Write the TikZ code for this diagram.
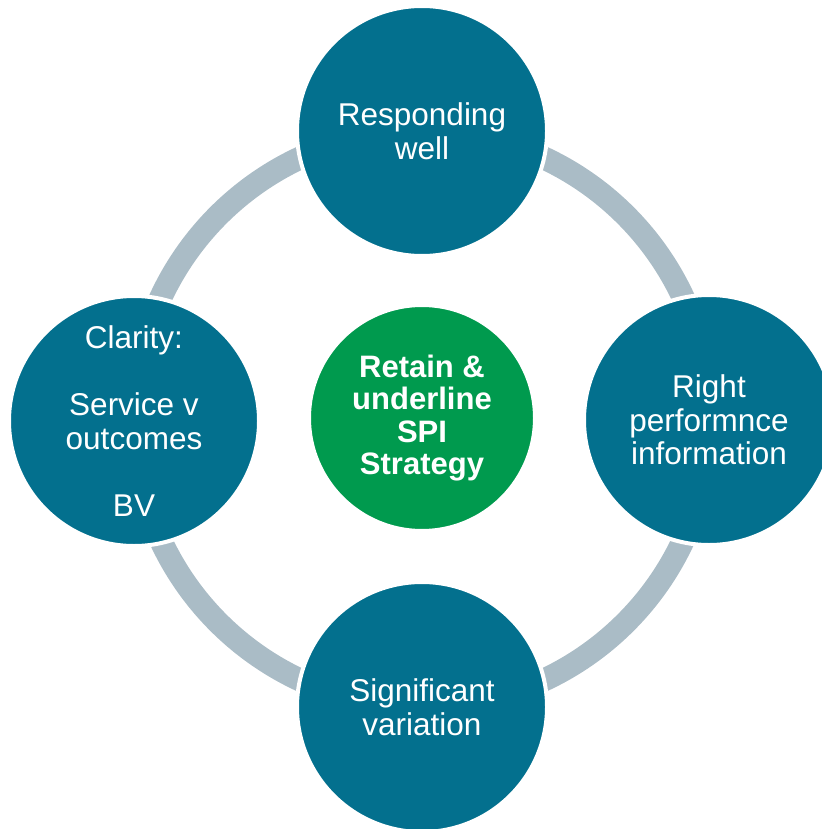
\documentclass[tikz,border=0pt]{standalone}
\usepackage{fontspec}
\setmainfont{Liberation Sans}
\definecolor{teal}{HTML}{03708E}
\definecolor{sgreen}{HTML}{009A4E}
\definecolor{ringgray}{HTML}{AABCC6}
\tikzset{
  outer/.style={circle, fill=teal, draw=white, line width=4pt, minimum size=250pt,
    inner sep=0pt, outer sep=0pt, text=white, align=center,
    font=\fontsize{31.5}{33.5}\selectfont},
  inner/.style={circle, fill=sgreen, draw=white, line width=4pt, minimum size=226pt,
    inner sep=0pt, outer sep=0pt, text=white, align=center,
    font=\fontsize{31}{32.5}\selectfont\bfseries}
}
\begin{document}
\begin{tikzpicture}[x=1pt,y=-1pt]
\useasboundingbox (0,0) rectangle (821,829);
\coordinate (c) at (422,419);
\draw[ringgray, line width=23pt] (c) circle (288);
\node[outer] (top) at (422,131) {Responding\\well};
\node[outer] (right) at (709,420) {Right\\performnce\\information};
\node[outer] (bottom) at (422,707) {Significant\\variation};
\node[outer] (left) at (134,421) {Clarity:\\[33.5pt]Service v\\outcomes\\[33.5pt]BV};
\node[inner] (mid) at (422,418) {Retain \&\\underline\\SPI\\Strategy};
\end{tikzpicture}
\end{document}
